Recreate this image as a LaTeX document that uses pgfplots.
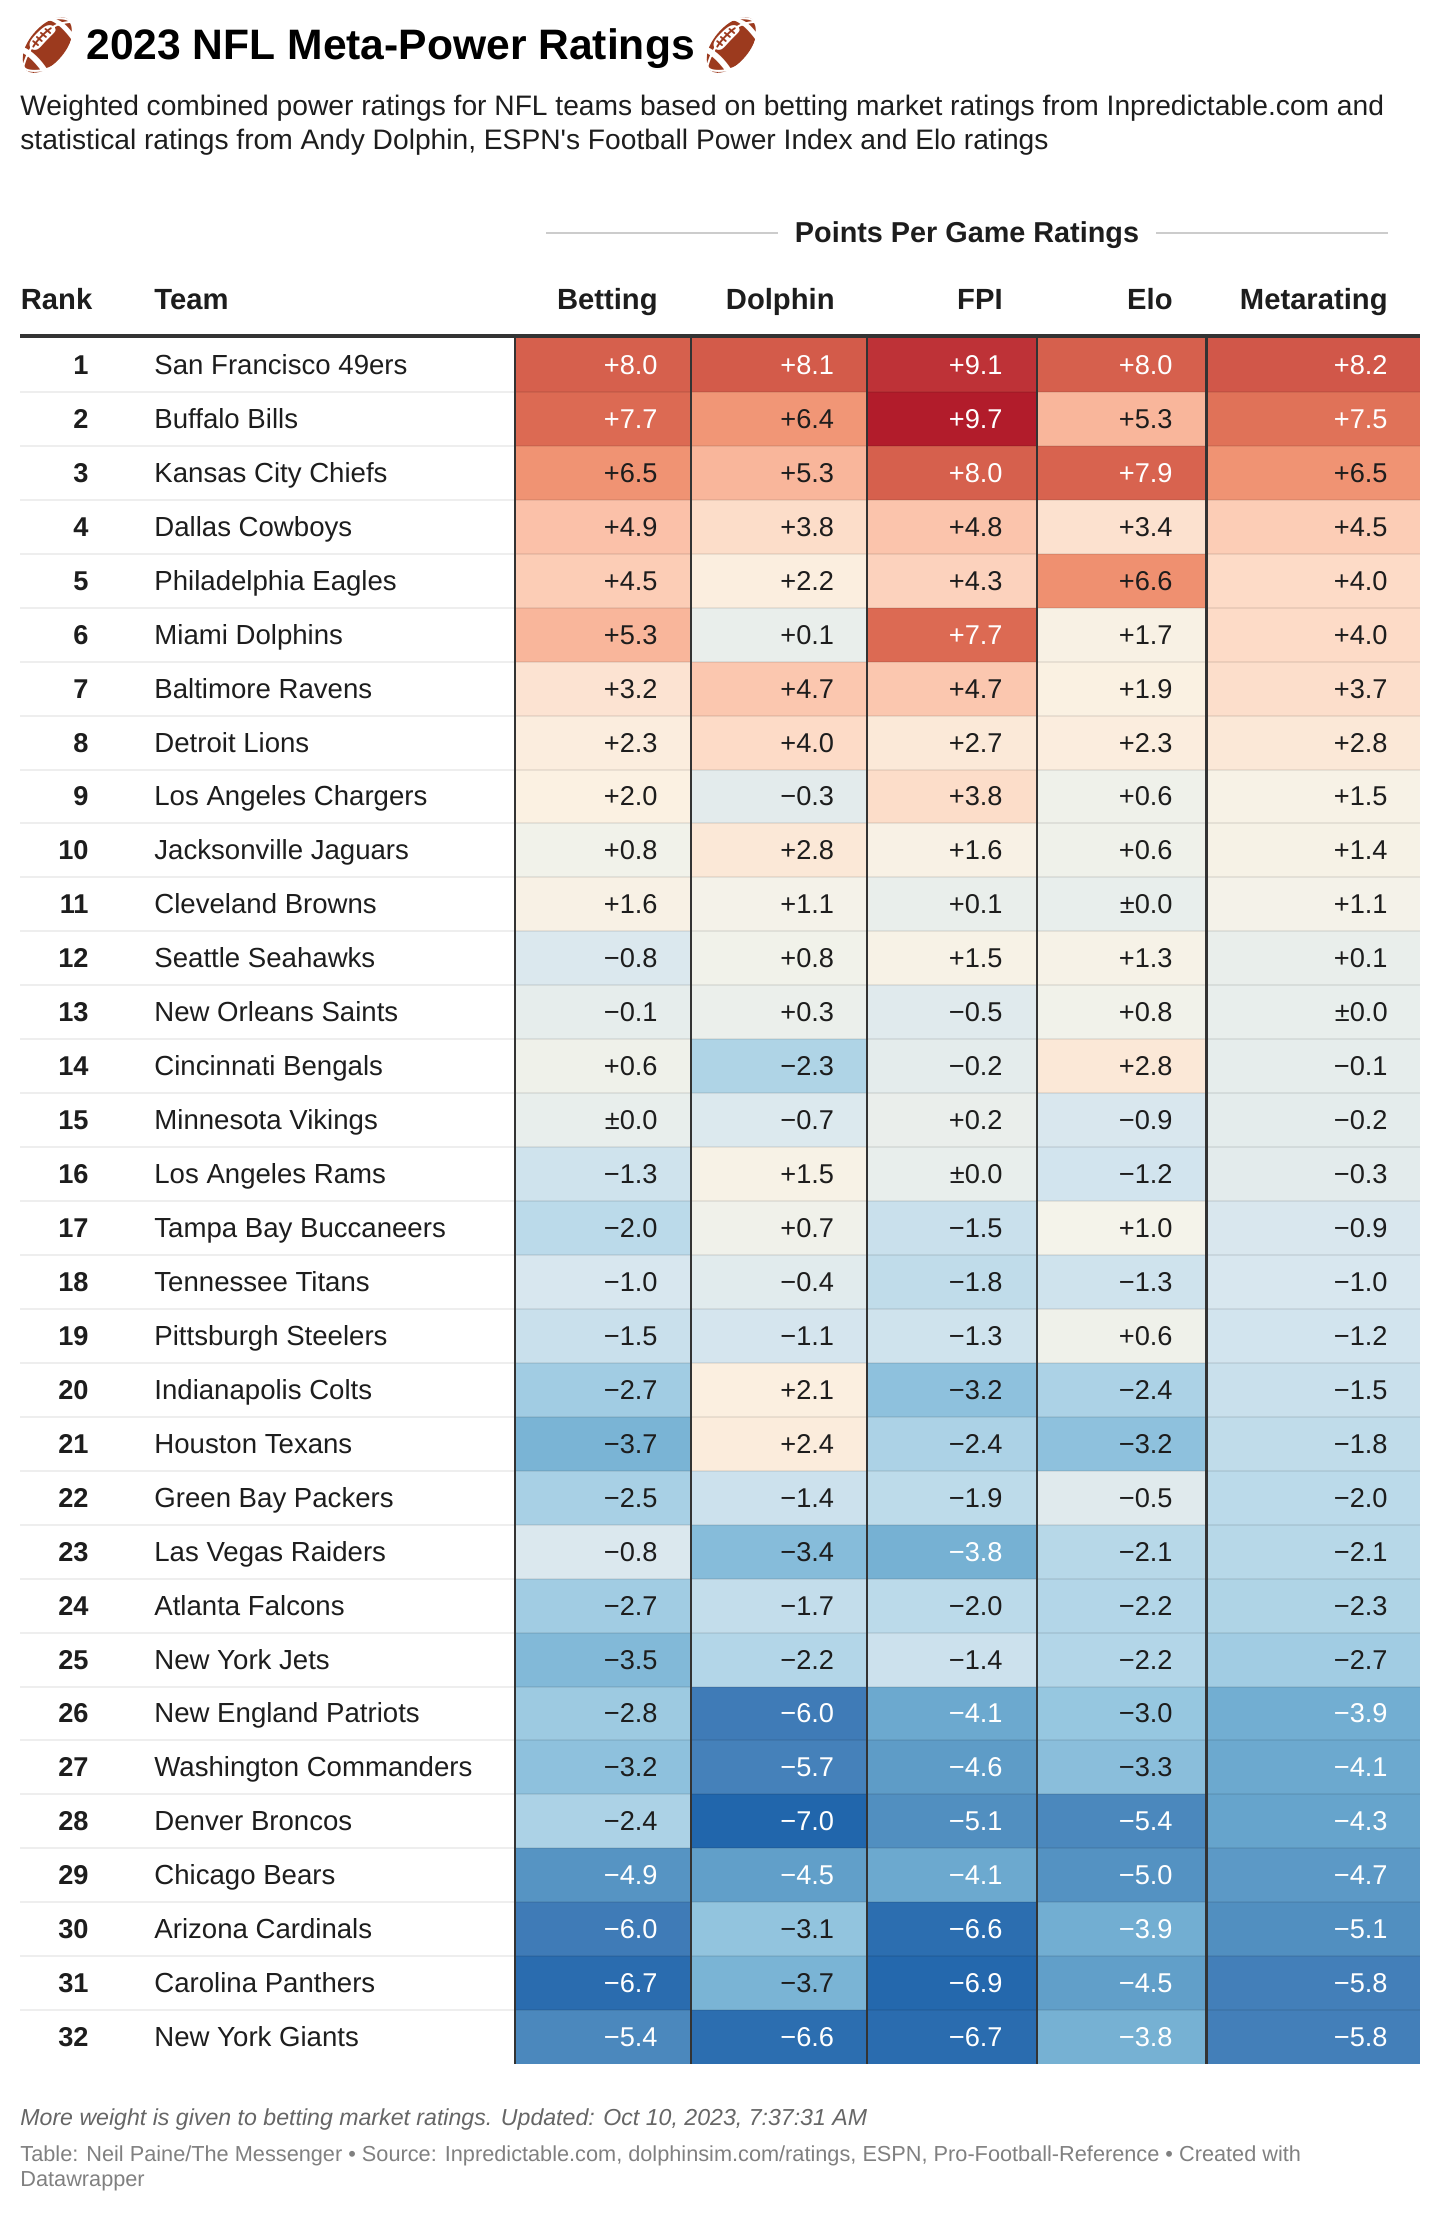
\documentclass[border=0pt]{standalone}
\usepackage{fontspec}
\usepackage{pgfplots}
\usepackage{pgfplotstable}
\pgfplotsset{compat=1.18}
\usetikzlibrary{shapes.geometric}
\setmainfont{Liberation Sans}[Ligatures=TeXOff]
\newfontfamily\emojifont{Noto Emoji}

\definecolor{ink}{HTML}{1D1D1D}
\definecolor{rulecol}{HTML}{333333}
\definecolor{lightrule}{HTML}{EEEEEE}
\definecolor{ballcol}{HTML}{9C3A1E}

% 1 px of the reference = 0.5pt here
\newcommand\px[1]{\fontsize{#1}{#1}\selectfont}

\pgfplotstableread[col sep=comma]{
rank,team,bet,dol,fpi,elo,meta
1,San Francisco 49ers,8.0,8.1,9.1,8.0,8.2
2,Buffalo Bills,7.7,6.4,9.7,5.3,7.5
3,Kansas City Chiefs,6.5,5.3,8.0,7.9,6.5
4,Dallas Cowboys,4.9,3.8,4.8,3.4,4.5
5,Philadelphia Eagles,4.5,2.2,4.3,6.6,4.0
6,Miami Dolphins,5.3,0.1,7.7,1.7,4.0
7,Baltimore Ravens,3.2,4.7,4.7,1.9,3.7
8,Detroit Lions,2.3,4.0,2.7,2.3,2.8
9,Los Angeles Chargers,2.0,-0.3,3.8,0.6,1.5
10,Jacksonville Jaguars,0.8,2.8,1.6,0.6,1.4
11,Cleveland Browns,1.6,1.1,0.1,0.0,1.1
12,Seattle Seahawks,-0.8,0.8,1.5,1.3,0.1
13,New Orleans Saints,-0.1,0.3,-0.5,0.8,0.0
14,Cincinnati Bengals,0.6,-2.3,-0.2,2.8,-0.1
15,Minnesota Vikings,0.0,-0.7,0.2,-0.9,-0.2
16,Los Angeles Rams,-1.3,1.5,0.0,-1.2,-0.3
17,Tampa Bay Buccaneers,-2.0,0.7,-1.5,1.0,-0.9
18,Tennessee Titans,-1.0,-0.4,-1.8,-1.3,-1.0
19,Pittsburgh Steelers,-1.5,-1.1,-1.3,0.6,-1.2
20,Indianapolis Colts,-2.7,2.1,-3.2,-2.4,-1.5
21,Houston Texans,-3.7,2.4,-2.4,-3.2,-1.8
22,Green Bay Packers,-2.5,-1.4,-1.9,-0.5,-2.0
23,Las Vegas Raiders,-0.8,-3.4,-3.8,-2.1,-2.1
24,Atlanta Falcons,-2.7,-1.7,-2.0,-2.2,-2.3
25,New York Jets,-3.5,-2.2,-1.4,-2.2,-2.7
26,New England Patriots,-2.8,-6.0,-4.1,-3.0,-3.9
27,Washington Commanders,-3.2,-5.7,-4.6,-3.3,-4.1
28,Denver Broncos,-2.4,-7.0,-5.1,-5.4,-4.3
29,Chicago Bears,-4.9,-4.5,-4.1,-5.0,-4.7
30,Arizona Cardinals,-6.0,-3.1,-6.6,-3.9,-5.1
31,Carolina Panthers,-6.7,-3.7,-6.9,-4.5,-5.8
32,New York Giants,-5.4,-6.6,-6.7,-3.8,-5.8
}\ratings

% colour scale, one stop per rating point from -7 to +10
\def\redstops{{33,63,84,111,150,187,216,232,244,251,252,253,251,246,235,214,193,172}}
\def\grnstops{{102,123,146,172,199,218,231,238,243,241,230,219,191,163,132,96,54,17}}
\def\blustops{{172,183,194,209,224,234,239,236,234,226,213,199,166,131,100,77,57,38}}

% one filled rectangle per rating, coloured from its value
\newcommand\heatcolumn[3]{%
  \pgfplotsforeachungrouped \rowi in {0,...,31}{%
    \pgfplotstablegetelem{\rowi}{#1}\of\ratings
    \pgfmathsetmacro\hv{\pgfplotsretval+7}%
    \pgfmathtruncatemacro\idx{floor(\hv)}%
    \pgfmathsetmacro\fr{\hv-\idx}%
    \pgfmathtruncatemacro\cR{(1-\fr)*\redstops[\idx]+\fr*\redstops[\idx+1]}%
    \pgfmathtruncatemacro\cG{(1-\fr)*\grnstops[\idx]+\fr*\grnstops[\idx+1]}%
    \pgfmathtruncatemacro\cB{(1-\fr)*\blustops[\idx]+\fr*\blustops[\idx+1]}%
    \pgfmathsetmacro\yt{338+53.94*\rowi}%
    \pgfmathsetmacro\yb{\yt+54.2}%
    \edef\temp{\noexpand\addplot[draw=none, mark=none,
      fill={rgb,255:red,\cR;green,\cG;blue,\cB}]
      coordinates {(#2,\yt)(#3,\yt)(#3,\yb)(#2,\yb)} --cycle;}%
    \temp
  }%
}

\newcommand\celltext{%
  \pgfmathfloattofixed{\pgfplotspointmeta}\let\cv\pgfmathresult
  \pgfmathsetmacro\ca{abs(\cv)}%
  \ifdim\cv pt>7pt\color{white}\else\ifdim\cv pt<-3.75pt\color{white}\else\color{ink}\fi\fi
  \ifdim\cv pt=0pt±\else\ifdim\cv pt<0pt−\else+\fi\fi
  \pgfmathprintnumber[fixed,fixed zerofill,precision=1,assume math mode=true]{\ca}}

\pgfplotsset{
  valtext/.style={
    only marks, mark=none,
    point meta=\thisrow{#1},
    nodes near coords={\celltext},
    every node near coord/.append style={anchor=base east, inner sep=0pt,
      yshift=-4.75pt, font=\px{13.6}},
  },
  rowtext/.style={
    only marks, mark=none, point meta=explicit symbolic,
    nodes near coords,
    every node near coord/.append style={inner sep=0pt, yshift=-4.75pt, text=ink},
  },
}
\tikzset{head/.style={anchor=base east, inner sep=0pt, text=ink, font=\px{14.6}\bfseries}}

\begin{document}
\begin{tikzpicture}
\begin{axis}[
    scale only axis, width=720pt, height=1107pt,
    xmin=0, xmax=1440, ymin=0, ymax=2214, y dir=reverse,
    hide axis, clip=false,
]
\path (axis cs:0,0) rectangle (axis cs:1440,2214);

% heat cells
\heatcolumn{bet}{516}{690.7}
\heatcolumn{dol}{690.7}{866.7}
\heatcolumn{fpi}{866.7}{1037}
\heatcolumn{elo}{1037}{1206}
\heatcolumn{meta}{1206}{1420}

% row rules
\pgfplotsinvokeforeach{1,...,31}{
  \draw[lightrule, line width=1pt] (axis cs:20,{338+53.94*#1}) -- (axis cs:514,{338+53.94*#1});
  \draw[black, opacity=0.07, line width=1pt] (axis cs:516,{338+53.94*#1}) -- (axis cs:1420,{338+53.94*#1});
}
% column rules
\draw[rulecol, line width=0.8pt] (axis cs:515,338) -- (axis cs:515,2064);
\draw[rulecol, line width=0.8pt] (axis cs:690.7,338) -- (axis cs:690.7,2064);
\draw[rulecol, line width=0.8pt] (axis cs:866.7,338) -- (axis cs:866.7,2064);
\draw[rulecol, line width=0.8pt] (axis cs:1037,338) -- (axis cs:1037,2064);
\draw[rulecol, line width=1.5pt] (axis cs:1206,338) -- (axis cs:1206,2064);
\draw[rulecol, line width=2pt] (axis cs:20,336) -- (axis cs:1420,336);

% values on the cells
\addplot[valtext=bet] table[x expr=658, y expr=338+53.94*(\thisrow{rank}-0.5)] {\ratings};
\addplot[valtext=dol] table[x expr=834.5, y expr=338+53.94*(\thisrow{rank}-0.5)] {\ratings};
\addplot[valtext=fpi] table[x expr=1003, y expr=338+53.94*(\thisrow{rank}-0.5)] {\ratings};
\addplot[valtext=elo] table[x expr=1173, y expr=338+53.94*(\thisrow{rank}-0.5)] {\ratings};
\addplot[valtext=meta] table[x expr=1388, y expr=338+53.94*(\thisrow{rank}-0.5)] {\ratings};

% rank and team columns
\addplot[rowtext, every node near coord/.append style={anchor=base east, font=\px{13.6}\bfseries}]
  table[x expr=89, y expr=338+53.94*(\thisrow{rank}-0.5), meta=rank] {\ratings};
\addplot[rowtext, every node near coord/.append style={anchor=base west, font=\px{13.8}}]
  table[x expr=154, y expr=338+53.94*(\thisrow{rank}-0.5), meta=team] {\ratings};

% column heads
\node[head, anchor=base west] at (axis cs:20.5,309.5) {Rank};
\node[head, anchor=base west] at (axis cs:154,309.5) {Team};
\node[head] at (axis cs:658,309.5) {Betting};
\node[head] at (axis cs:835,309.5) {Dolphin};
\node[head] at (axis cs:1003,309.5) {FPI};
\node[head] at (axis cs:1173,309.5) {Elo};
\node[head] at (axis cs:1388,309.5) {Metarating};
\node[head, anchor=base, font=\px{14.4}\bfseries] at (axis cs:967,242.5) {Points Per Game Ratings};
\draw[black!20, line width=1pt] (axis cs:546,233) -- (axis cs:778,233);
\draw[black!20, line width=1pt] (axis cs:1156,233) -- (axis cs:1388,233);

% title block
\node[fill=ballcol, ellipse, rotate=50, minimum width=33pt, minimum height=18pt, inner sep=0pt] at (axis cs:47.5,45) {};
\node[fill=ballcol, ellipse, rotate=50, minimum width=33pt, minimum height=18pt, inner sep=0pt] at (axis cs:731.5,45) {};
\node[inner sep=0pt, text=white, font=\emojifont\px{27}] at (axis cs:47.5,45) {🏈};
\node[inner sep=0pt, text=white, font=\emojifont\px{27}] at (axis cs:731.5,45) {🏈};
\node[anchor=base west, inner sep=0pt, text=black, font=\px{21.3}\bfseries] at (axis cs:86,60) {2023 NFL Meta-Power Ratings};
\node[anchor=base west, inner sep=0pt, text=ink, font=\px{14.09}] at (axis cs:20,116) {Weighted combined power ratings for NFL teams based on betting market ratings from Inpredictable.com and};
\node[anchor=base west, inner sep=0pt, text=ink, font=\px{14.09}] at (axis cs:20,150) {statistical ratings from Andy Dolphin, ESPN's Football Power Index and Elo ratings};

% footer
\node[anchor=base west, inner sep=0pt, text=black!60, font=\px{11.57}\itshape] at (axis cs:20,2125) {More weight is given to betting market ratings. Updated: Oct 10, 2023, 7:37:31 AM};
\node[anchor=base west, inner sep=0pt, text=black!50, font=\px{10.86}] at (axis cs:20,2161) {Table: Neil Paine/The Messenger • Source: Inpredictable.com, dolphinsim.com/ratings, ESPN, Pro-Football-Reference • Created with};
\node[anchor=base west, inner sep=0pt, text=black!50, font=\px{10.86}] at (axis cs:20,2186) {Datawrapper};
\end{axis}
\end{tikzpicture}
\end{document}
